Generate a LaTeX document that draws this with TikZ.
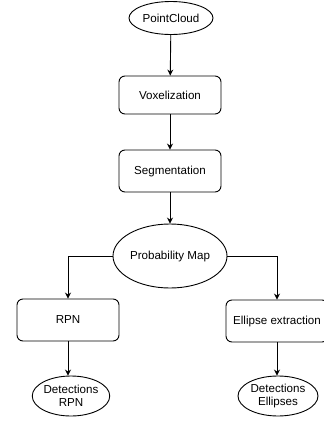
\documentclass[tikz,border=0pt]{standalone}
\usepackage{fontspec}
\setmainfont{Liberation Sans}
\usetikzlibrary{shapes.geometric,arrows.meta}
\tikzset{
  stepbox/.style={draw, rounded corners=6pt, minimum width=102pt, minimum height=40pt, inner sep=0pt},
  datanode/.style={draw, ellipse, inner sep=0pt, align=center},
  flow/.style={->, >={Stealth[length=6pt,width=6pt]}}
}
\begin{document}
\begin{tikzpicture}[x=1pt, y=-1pt, line width=0.9pt, font=\fontsize{11.6}{12.5}\selectfont]
            \useasboundingbox (0,0) rectangle (324,421);
            \node[datanode, minimum width=84pt, minimum height=33pt] (cloud) at (171,18) {PointCloud};
            \node[stepbox, minimum height=38pt] (voxel) at (170,95) {Voxelization};
            \node[stepbox, minimum height=42pt] (segment) at (170,171) {Segmentation};
            \node[datanode, minimum width=114pt, minimum height=64pt] (probmap) at (170,256) {Probability Map};
            \node[stepbox, minimum height=42pt] (rpn) at (68,320) {RPN};
            \node[stepbox, minimum height=42pt] (ellext) at (277,321) {Ellipse extraction};
            \node[datanode, minimum width=73pt, minimum height=40pt] (detrpn) at (71,396) {Detections\\RPN};
            \node[datanode, minimum width=80pt, minimum height=40pt] (detell) at (278,396) {Detections\\Ellipses};
            \draw[flow] (cloud) -- (voxel);
            \draw[flow] (voxel) -- (segment);
            \draw[flow] (segment) -- (probmap);
            \draw[flow] (probmap.west) -| (rpn.north);
            \draw[flow] (probmap.east) -| (ellext.north);
            \draw[flow] (rpn.south) -- (rpn.south |- detrpn.north);
            \draw[flow] (ellext.south) -- (ellext.south |- detell.north);
\end{tikzpicture}
\end{document}
